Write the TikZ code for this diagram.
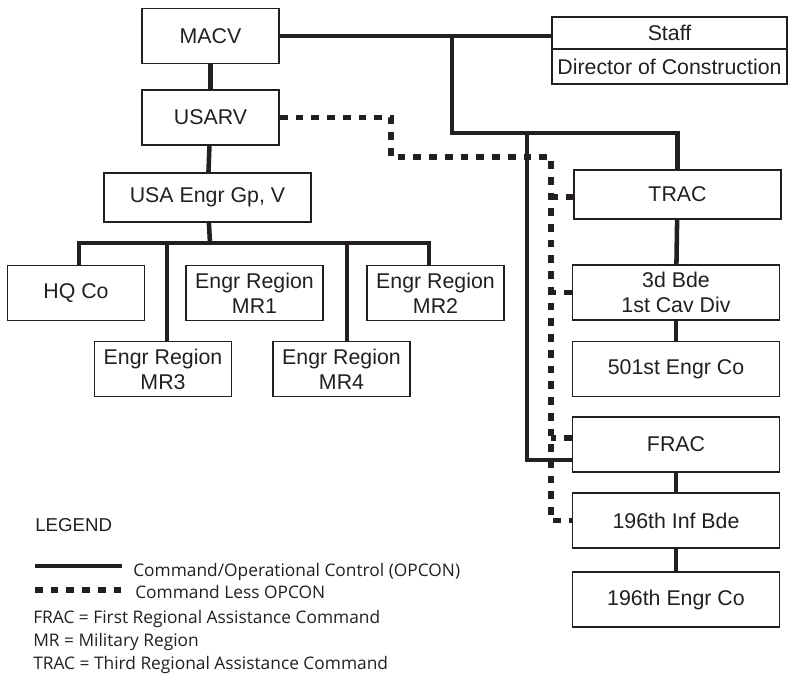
\documentclass[tikz,border=0pt]{standalone}
\usepackage{fontspec}
\setmainfont{Liberation Sans}
\newfontfamily\legendfont{Open Sans}
\usetikzlibrary{calc}
\definecolor{ink}{HTML}{231F20}
\tikzset{
    unit/.style={rectangle,draw=ink,line width=1.1pt,minimum width=103pt,minimum height=41pt,
        inner sep=2pt,align=center,text=ink,font=\fontsize{16}{18.8}\selectfont},
    wideunit/.style={unit,minimum width=155pt},
    cmd/.style={draw=ink,line width=3.4pt},
    opcon/.style={draw=ink,line width=3.8pt,dash pattern=on 5.8pt off 6pt},
    key/.style={anchor=base west,inner sep=0pt,text=ink,font=\legendfont\fontsize{13}{15}\selectfont},
}

\begin{document}
\begin{tikzpicture}[x=0.75pt,y=-0.75pt]
    \useasboundingbox (0,0) rectangle (788,679);

    % left tree
    \node[unit] (macv) at (210.5,36) {MACV};
    \node[unit] (usarv) at (210.5,117.5) {USARV};
    \node[wideunit,minimum height=37pt] (engrgp) at (207.5,197.5) {USA Engr Gp, V};
    \node[unit] (hq) at (76,293) {HQ Co};
    \node[unit] (mr1) at (254.5,293) {Engr Region\\MR1};
    \node[unit] (mr2) at (435.5,293) {Engr Region\\MR2};
    \node[unit] (mr3) at (163,369) {Engr Region\\MR3};
    \node[unit] (mr4) at (341.5,369) {Engr Region\\MR4};

    % staff box
    \node[unit,minimum width=176pt,minimum height=24pt] (staff) at (669.5,33) {Staff};
    \node[unit,minimum width=176pt,minimum height=26pt] (dircon) at (669.5,66.5) {Director of Construction};

    % right column
    \node[wideunit,minimum height=37pt] (trac) at (677.5,194.5) {TRAC};
    \node[wideunit] (bde3) at (676,292.5) {3d Bde\\1st Cav Div};
    \node[wideunit] (engr501) at (676,369) {501st Engr Co};
    \node[wideunit] (frac) at (676,444.5) {FRAC};
    \node[wideunit] (inf196) at (676,520.5) {196th Inf Bde};
    \node[wideunit] (engr196) at (676,599.5) {196th Engr Co};

    \coordinate (bar) at (210,243);
    \coordinate (hqtop) at ($(hq.north)+(3,0)$);
    \coordinate (mr2top) at ($(mr2.north)+(-6.5,0)$);
    \coordinate (mr3top) at ($(mr3.north)+(4,0)$);
    \coordinate (mr4top) at ($(mr4.north)+(5.5,0)$);
    \coordinate (tee) at (452,36);
    \coordinate (split) at (452,133);
    \coordinate (fork) at (527,133);
    \coordinate (fracin) at ($(frac.west)+(0,15.5)$);
    \coordinate (dogleg) at (391,157);
    \coordinate (rail) at (551,157);
    \coordinate (tracin) at ($(trac.west)+(0,2.5)$);
    \coordinate (fracop) at ($(frac.west)+(0,-6.5)$);

    % command lines
    \draw[cmd] (macv) -- (usarv);
    \draw[cmd] (usarv) -- (engrgp);
    \draw[cmd] (engrgp) -- (bar);
    \draw[cmd] (hqtop) |- (bar) -| (mr2top);
    \draw[cmd] (mr3top) -- (mr3top |- bar);
    \draw[cmd] (mr4top) -- (mr4top |- bar);
    \draw[cmd] (macv.east) -- (macv.east -| staff.west);
    \draw[cmd] (tee) -- (split) -| (trac.north);
    \draw[cmd] (fork) |- (fracin);
    \draw[cmd] (trac) -- (bde3);
    \draw[cmd] (bde3) -- (engr501);
    \draw[cmd] (frac) -- (inf196);
    \draw[cmd] (inf196) -- (engr196);

    % opcon lines
    \draw[opcon] (usarv.east) -| (dogleg) -- (rail) |- (inf196.west);
    \draw[opcon] (tracin) -- (tracin -| rail);
    \draw[opcon] (bde3.west) -- (bde3.west -| rail);
    \draw[opcon] (fracop) -- (fracop -| rail);

    % legend
    \node[anchor=base west,inner sep=0pt,text=ink,font=\fontsize{14}{16}\selectfont] (legend) at (35,531.5) {LEGEND};
    \coordinate (solidA) at (35,566);
    \coordinate (solidB) at (122,566);
    \coordinate (dashA) at (35,590);
    \coordinate (dashB) at (123,590);
    \draw[cmd] (solidA) -- (solidB);
    \draw[opcon] (dashA) -- (dashB);
    \node[key] (keycmd) at (133,576) {Command/Operational Control (OPCON)};
    \node[key] (keyopcon) at (135,598) {Command Less OPCON};
    \node[key] (keyfrac) at (33,623) {FRAC = First Regional Assistance Command};
    \node[key] (keymr) at (33,646) {MR = Military Region};
    \node[key] (keytrac) at (33,669) {TRAC = Third Regional Assistance Command};
\end{tikzpicture}
\end{document}
